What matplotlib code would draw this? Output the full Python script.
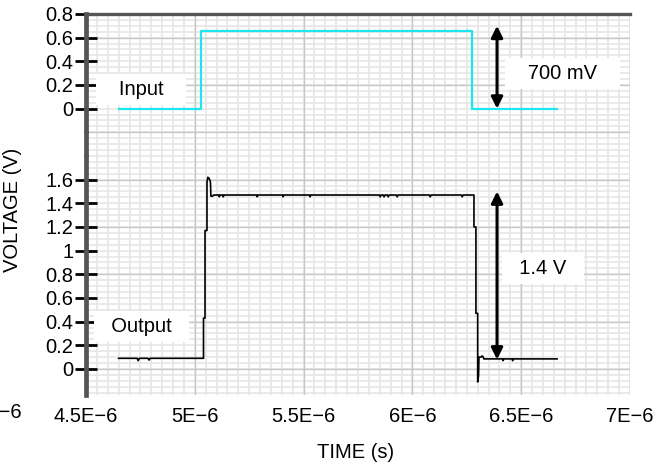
import numpy as np
import matplotlib.pyplot as plt

plt.rcParams.update({
    'font.family': ['Liberation Sans', 'DejaVu Sans'],
    'font.size': 14.5,
})

# time in microseconds (axis is labelled in seconds), voltage in volts
in_offset = 2.2   # input trace is stacked above the output trace
in_t = [4.65, 5.028, 5.028, 6.274, 6.274, 6.665]
in_v = [0.0, 0.0, 0.66, 0.66, 0.0, 0.0]

out_t = [4.650, 4.735, 4.740, 4.745, 4.785, 4.790, 4.795,
         5.040, 5.040, 5.047, 5.047, 5.056, 5.056, 5.060, 5.066, 5.072, 5.074,
         5.082, 5.086,
         5.110, 5.113, 5.116, 5.128, 5.131, 5.134,
         5.284, 5.287, 5.290, 5.403, 5.406, 5.409, 5.527, 5.530, 5.533,
         5.848, 5.852, 5.856, 5.866, 5.870, 5.874, 5.885, 5.889, 5.893,
         5.926, 5.930, 5.934, 6.078, 6.082, 6.086, 6.225, 6.229, 6.233,
         6.283, 6.283, 6.292, 6.292, 6.300, 6.300, 6.304, 6.306,
         6.316, 6.320, 6.326, 6.328,
         6.414, 6.417, 6.420, 6.458, 6.461, 6.464, 6.665]
out_v = [0.090, 0.090, 0.070, 0.090, 0.090, 0.075, 0.090,
         0.090, 0.430, 0.430, 1.170, 1.170, 1.580, 1.620, 1.610, 1.580, 1.460,
         1.460, 1.470,
         1.470, 1.455, 1.470, 1.470, 1.455, 1.470,
         1.470, 1.455, 1.470, 1.470, 1.455, 1.470, 1.470, 1.455, 1.470,
         1.470, 1.455, 1.470, 1.470, 1.455, 1.470, 1.470, 1.455, 1.470,
         1.470, 1.455, 1.470, 1.470, 1.455, 1.470, 1.470, 1.455, 1.470,
         1.470, 1.200, 1.200, 0.470, 0.470, -0.110, -0.060, 0.100,
         0.100, 0.110, 0.100, 0.085,
         0.085, 0.070, 0.085, 0.085, 0.070, 0.085, 0.085]

x_ticks = [4.5, 5.0, 5.5, 6.0, 6.5, 7.0]
x_labels = ['4.5E\u22126', '5E\u22126', '5.5E\u22126', '6E\u22126', '6.5E\u22126', '7E\u22126']
out_ticks = [0, 0.2, 0.4, 0.6, 0.8, 1.0, 1.2, 1.4, 1.6]
gap_ticks = [1.8, 2.0]
in_ticks = [0, 0.2, 0.4, 0.6, 0.8]

arrow_t = 6.389
in_step = (0.0, 0.7)
out_step = (0.08, 1.50)

fig = plt.figure(figsize=(6.63, 4.66), dpi=100)
ax = fig.add_axes([0.1297, 0.1524, 0.8205, 0.8176])
ax.set_xlim(4.5, 7.0)
ax.set_ylim(-0.22, 3.0)

# graph-paper grid
for x in np.arange(4.5, 7.0001, 0.05):
    ax.axvline(x, color='#e6e6e6', lw=1.2, zorder=0)
for y in np.arange(-0.2, 3.0001, 0.05):
    ax.axhline(y, color='#e6e6e6', lw=1.2, zorder=0)
for x in x_ticks:
    ax.axvline(x, color='#c8c8c8', lw=1.0, zorder=0.5)
for y in np.arange(0, 2.9, 0.4):
    ax.axhline(y, color='#c8c8c8', lw=1.0, zorder=0.5)

ax.plot(in_t, np.array(in_v) + in_offset, color='#1ee6f0', lw=1.6, zorder=3)
ax.plot(out_t, out_v, color='black', lw=1.2, zorder=3)

arrow = dict(arrowstyle='<|-|>', color='black', lw=2.2, mutation_scale=17,
             shrinkA=0, shrinkB=0)
ax.annotate('', xy=(arrow_t, in_step[1] + in_offset), xytext=(arrow_t, in_step[0] + in_offset),
            arrowprops=arrow, zorder=4)
ax.annotate('', xy=(arrow_t, out_step[1]), xytext=(arrow_t, out_step[0]),
            arrowprops=arrow, zorder=4)

box = dict(boxstyle='square,pad=0.3', fc='white', ec='none')
ax.text(4.753, 0.16 + in_offset, '   Input   ', ha='center', va='center', bbox=box, zorder=5)
ax.text(4.753, 0.355, '  Output  ', ha='center', va='center', bbox=box, zorder=5)
ax.text(6.688, 0.30 + in_offset, '   700 mV   ', ha='center', va='center', bbox=box, zorder=5)
ax.text(6.60, 0.85, '  1.4 V  ', ha='center', va='center', bbox=box, zorder=5)

# y axis: output scale below, input scale stacked on top
yt = out_ticks + gap_ticks + [v + in_offset for v in in_ticks]
yl = [f'{v:g}' for v in out_ticks] + ['', ''] + [f'{v:g}' for v in in_ticks]
ax.set_yticks(yt)
ax.set_yticklabels(yl)
ax.tick_params(axis='y', direction='inout', length=16, width=2, color='black', pad=1)
for tk in ax.yaxis.get_major_ticks()[len(out_ticks):len(out_ticks) + 2]:
    tk.tick1line.set_color('white')
    tk.tick1line.set_markersize(3)

ax.set_xticks(x_ticks)
ax.set_xticklabels(x_labels)
ax.tick_params(axis='x', length=0, pad=9)
# first label of the time scale lies left of the plot and is cut by the figure edge
ax.text(-0.117, -0.045, '4E\u22126', transform=ax.transAxes, ha='right', va='center')

for s in ['right', 'bottom']:
    ax.spines[s].set_visible(False)
ax.spines['left'].set_linewidth(3.4)
ax.spines['left'].set_color('#555555')
ax.spines['top'].set_linewidth(2.4)
ax.spines['top'].set_color('#555555')

ax.set_ylabel('VOLTAGE (V)')
ax.yaxis.set_label_coords(-0.118, 0.486)
ax.set_xlabel('TIME (s)')
ax.xaxis.set_label_coords(0.496, -0.125)

fig.savefig('out.png', dpi=100)
